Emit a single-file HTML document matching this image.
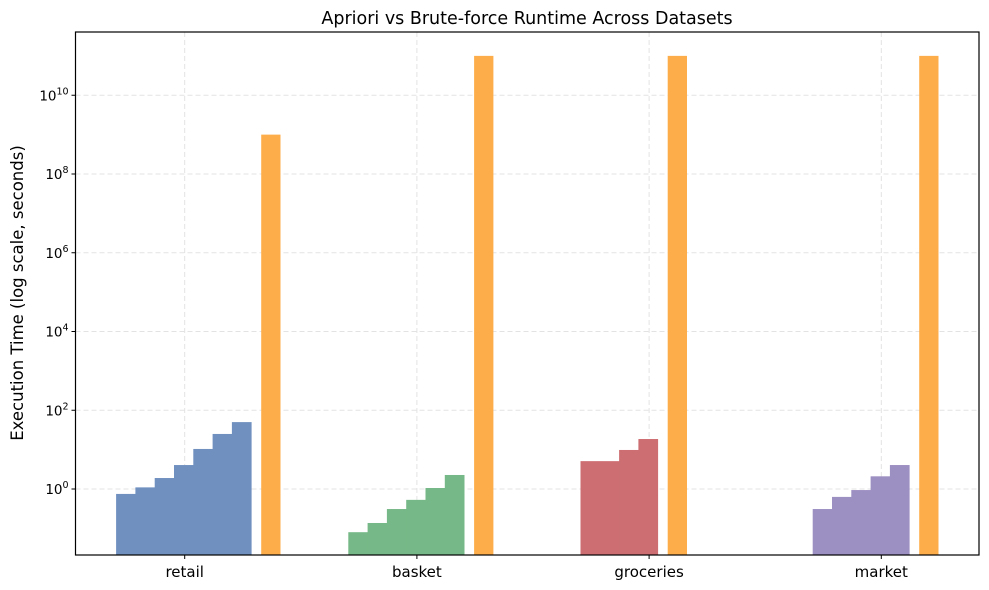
<!DOCTYPE html>
<html><head><meta charset="utf-8"><style>
html,body{margin:0;padding:0;background:#fff;}
svg{display:block;font-family:"DejaVu Sans","Liberation Sans",sans-serif;}
</style></head><body>
<svg id="chart" width="989" height="590" viewBox="0 0 989 590">
<text x="527" y="24" text-anchor="middle" font-size="17.5" fill="#000">Apriori vs Brute-force Runtime Across Datasets</text>
<g id="grid"></g>
<g id="bars"></g>
<rect x="75.5" y="32" width="903.5" height="523" fill="none" stroke="#000" stroke-width="1.2"/>
<g id="axes"></g>
<text transform="translate(23,293) rotate(-90)" text-anchor="middle" font-size="16.5" fill="#000">Execution Time (log scale, seconds)</text>
</svg>
<script>
const categories = ["retail","basket","groceries","market"];
const aprioriTimes = [
  [0.75, 1.1, 1.9, 4.06, 10.4, 25, 50],
  [0.08, 0.137, 0.31, 0.53, 1.06, 2.27],
  [5.1, 5.1, 9.8, 18.6],
  [0.31, 0.63, 0.94, 2.1, 4.06]
];
const bruteTimes = [1e9, 1e11, 1e11, 1e11];
const yTickExps = [0, 2, 4, 6, 8, 10];
const groupColors = ["#7090c0", "#76b887", "#cd6f72", "#9c8fc2"];

const NS = "http://www.w3.org/2000/svg";
const plotTop = 32, plotBottom = 555, plotLeft = 75.5, plotRight = 979;
const y0 = 489, decade = 39.375;
function yScale(v){ return y0 - Math.log10(v) * decade; }
function xScale(i){ return 184.7 + i * 232.2; }
const barW = 19.3;
function mk(tag, attrs, parent){ const e = document.createElementNS(NS, tag); for (const k in attrs) e.setAttribute(k, attrs[k]); parent.appendChild(e); return e; }

const grid = document.getElementById('grid');
const axes = document.getElementById('axes');
const bars = document.getElementById('bars');

yTickExps.forEach(function(p){
  const y = yScale(Math.pow(10, p));
  const gl = mk('line', {x1: plotLeft, x2: plotRight, y1: y, y2: y, stroke: '#e3e3e3', 'stroke-dasharray': '5,3', 'stroke-width': 1}, grid);
  
  
  const tk = mk('line', {x1: plotLeft - 4, x2: plotLeft, y1: y, y2: y, stroke: '#000', 'stroke-width': 1}, axes);
  
  
  const t = mk('text', {x: plotLeft - 30, y: y + 5, 'font-size': 13.5, 'text-anchor': 'end', fill: '#000'}, axes);
  
  
  t.textContent = '10';
  const s = mk('tspan', {x: plotLeft - 30, dy: -6, 'font-size': 9.5, 'text-anchor': 'start'}, t);
  s.textContent = String(p);
  t.setAttribute('x', plotLeft - 7 - (String(p).length * 6));
  s.setAttribute('x', plotLeft - 7 - (String(p).length * 6));
});

categories.forEach(function(c, i){
  const x = xScale(i);
  const gl = mk('line', {x1: x, x2: x, y1: plotTop, y2: plotBottom, stroke: '#e3e3e3', 'stroke-dasharray': '5,3', 'stroke-width': 1}, grid);
  
  
  const tk = mk('line', {x1: x, x2: x, y1: plotBottom, y2: plotBottom + 4, stroke: '#000', 'stroke-width': 1}, axes);
  
  
  const t = mk('text', {x: x, y: plotBottom + 22, 'font-size': 15, 'text-anchor': 'middle', fill: '#000'}, axes);
  
  
  t.textContent = c;

  const start = x - 68.6;
  const vals = aprioriTimes[i];
  vals.forEach(function(v, j){
    const top = yScale(v);
    const r = mk('rect', {x: start + j * barW, y: top, width: barW + 0.4, height: plotBottom - top, fill: groupColors[i]}, bars);
    
    
  });
  const ox = start + vals.length * barW + 10;
  const bt = yScale(bruteTimes[i]);
  const o = mk('rect', {x: ox, y: bt, width: barW, height: plotBottom - bt, fill: '#fdae4b'}, bars);
  
  
});
</script>
</body></html>
